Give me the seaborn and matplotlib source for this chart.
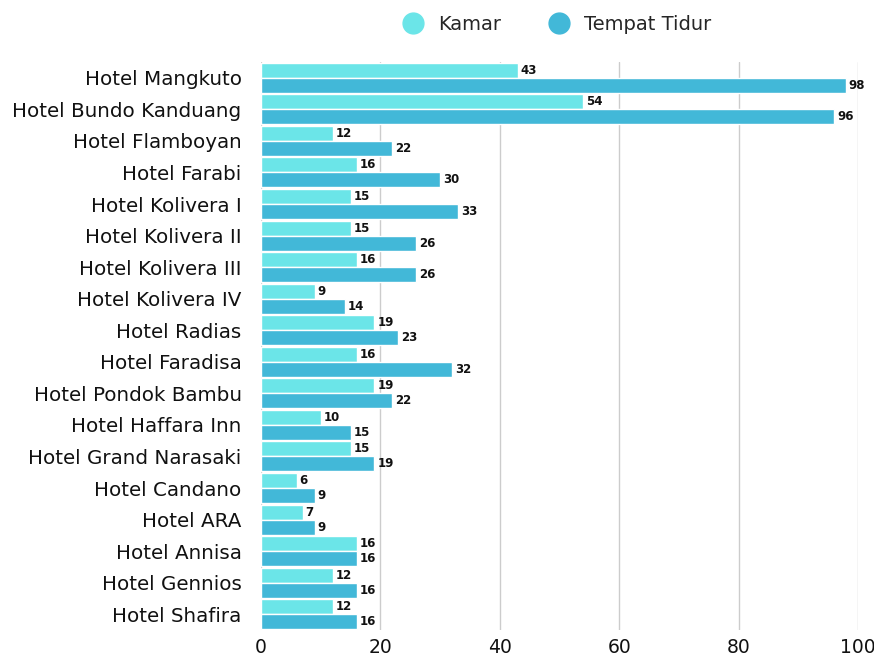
import matplotlib
matplotlib.use("Agg")
import matplotlib.pyplot as plt
import seaborn as sns
import pandas as pd
from matplotlib.lines import Line2D

hotels = ["Hotel Mangkuto", "Hotel Bundo Kanduang", "Hotel Flamboyan", "Hotel Farabi",
          "Hotel Kolivera I", "Hotel Kolivera II", "Hotel Kolivera III", "Hotel Kolivera IV",
          "Hotel Radias", "Hotel Faradisa", "Hotel Pondok Bambu", "Hotel Haffara Inn",
          "Hotel Grand Narasaki", "Hotel Candano", "Hotel ARA", "Hotel Annisa",
          "Hotel Gennios", "Hotel Shafira"]
kamar = [43, 54, 12, 16, 15, 15, 16, 9, 19, 16, 19, 10, 15, 6, 7, 16, 12, 12]
tempat_tidur = [98, 96, 22, 30, 33, 26, 26, 14, 23, 32, 22, 15, 19, 9, 9, 16, 16, 16]
series = ["Kamar", "Tempat Tidur"]
colors = ["#6BE5E8", "#42B8D8"]

df = pd.DataFrame({
    "hotel": hotels * 2,
    "value": kamar + tempat_tidur,
    "series": [series[0]] * len(hotels) + [series[1]] * len(hotels),
})

sns.set_theme(style="white")
plt.rcParams['font.family'] = ['DejaVu Sans']

fig = plt.figure(figsize=(8.74, 6.57), dpi=100)
ax = fig.add_axes([0.2986, 0.0411, 0.6831, 0.8645])

sns.barplot(data=df, y="hotel", x="value", hue="series", order=hotels,
            hue_order=series, palette=colors, orient="h", width=0.95,
            edgecolor="white", linewidth=1, ax=ax, legend=False, saturation=1)

for c in ax.containers:
    ax.bar_label(c, padding=2, fontsize=8.5, color="#111111", fontweight="semibold")

ax.set_xlim(0, 100)
ax.set_ylim(len(hotels) - 0.5, -0.5)
ax.set_xticks([0, 20, 40, 60, 80, 100])
ax.xaxis.grid(True, color="#cccccc", linewidth=1)
ax.set_axisbelow(True)
for s in ax.spines.values():
    s.set_visible(False)
ax.set_xlabel("")
ax.set_ylabel("")
ax.tick_params(axis="y", labelsize=14.3, length=0, pad=14, labelcolor="#111111")
ax.tick_params(axis="x", labelsize=13.5, length=0, pad=6, labelcolor="#111111")

handles = [Line2D([0], [0], marker="o", linestyle="", markersize=15,
                  markerfacecolor=c, markeredgecolor=c) for c in colors]
fig.legend(handles, series, loc="center", bbox_to_anchor=(0.632, 0.963), ncol=2,
           frameon=False, fontsize=14, handletextpad=0.3, columnspacing=2.0)

fig.savefig("out.png", dpi=100)
